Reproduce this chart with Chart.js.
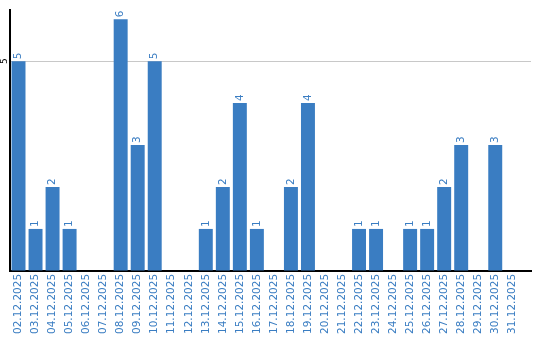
<!DOCTYPE html>
<html>
    <head>
        <meta charset="utf-8">
        <script src="https://cdn.jsdelivr.net/npm/chart.js"></script>
        <style>
          body { margin: 0; background: #fff; }
          #wrap { width: 540px; height: 340px; }
        </style>
    </head>
    <body>
        <div id="wrap"><canvas id="barChart"></canvas></div>
        <script>
            const days = ["02.12.2025", "03.12.2025", "04.12.2025", "05.12.2025", "06.12.2025",
                "07.12.2025", "08.12.2025", "09.12.2025", "10.12.2025", "11.12.2025",
                "12.12.2025", "13.12.2025", "14.12.2025", "15.12.2025", "16.12.2025",
                "17.12.2025", "18.12.2025", "19.12.2025", "20.12.2025", "21.12.2025",
                "22.12.2025", "23.12.2025", "24.12.2025", "25.12.2025", "26.12.2025",
                "27.12.2025", "28.12.2025", "29.12.2025", "30.12.2025", "31.12.2025"];
            const counts = [5, 1, 2, 1, 0, 0, 6, 3, 5, 0, 0, 1, 2, 4, 1,
                0, 2, 4, 0, 0, 1, 1, 0, 1, 1, 2, 3, 0, 3, 0];
            const yTicks = [0, 5];

            const blue = "#3a7dc2";
            const fontFamily = "'DejaVu Sans', Verdana, sans-serif";

            // draws the rotated value labels above bars and the rotated y tick
            const labelPlugin = {
                id: "labels",
                afterDatasetsDraw(chart) {
                    const ctx = chart.ctx;
                    const meta = chart.getDatasetMeta(0);
                    ctx.save();
                    ctx.font = "10.5px " + fontFamily;
                    ctx.fillStyle = blue;
                    ctx.textAlign = "left";
                    ctx.textBaseline = "middle";
                    meta.data.forEach((bar, i) => {
                        if (!counts[i]) return;
                        ctx.save();
                        ctx.translate(bar.x, bar.y - 2);
                        ctx.rotate(-Math.PI / 2);
                        ctx.fillText(String(counts[i]), 0, 0);
                        ctx.restore();
                    });
                    const y = chart.scales.y;
                    ctx.fillStyle = "#000";
                    ctx.textAlign = "center";
                    yTicks.filter(v => v > 0).forEach(v => {
                        ctx.save();
                        ctx.translate(5, y.getPixelForValue(v));
                        ctx.rotate(-Math.PI / 2);
                        ctx.font = "9px " + fontFamily;
                        ctx.fillText(String(v), 0, 0);
                        ctx.restore();
                    });
                    ctx.restore();
                }
            };

            new Chart(document.getElementById("barChart"), {
                type: "bar",
                data: {
                    labels: days,
                    datasets: [{
                        data: counts,
                        backgroundColor: blue,
                        categoryPercentage: 1,
                        barPercentage: 0.82
                    }]
                },
                options: {
                    responsive: true,
                    maintainAspectRatio: false,
                    animation: false,
                    layout: { padding: { left: 10, top: 10, right: 9, bottom: 3 } },
                    plugins: {
                        legend: { display: false },
                        tooltip: { enabled: false }
                    },
                    scales: {
                        x: {
                            // leave some empty room after the last day, as in the original
                            afterBuildTicks: scale => { scale._valueRange = days.length + 0.6; },
                            grid: { display: false, drawTicks: false },
                            border: { color: "#000", width: 2 },
                            ticks: {
                                color: blue,
                                font: { family: fontFamily, size: 10.5 },
                                minRotation: 90,
                                maxRotation: 90,
                                autoSkip: false,
                                padding: 3
                            }
                        },
                        y: {
                            min: 0,
                            max: 6.22,
                            afterBuildTicks: scale => { scale.ticks = yTicks.map(v => ({ value: v })); },
                            ticks: { display: false },
                            grid: {
                                drawTicks: false,
                                color: ctx => ctx.tick && ctx.tick.value > 0 ? "#c8c8c8" : "rgba(0,0,0,0)"
                            },
                            border: { color: "#000", width: 2 }
                        }
                    }
                },
                plugins: [labelPlugin]
            });
        </script>
    </body>
</html>
